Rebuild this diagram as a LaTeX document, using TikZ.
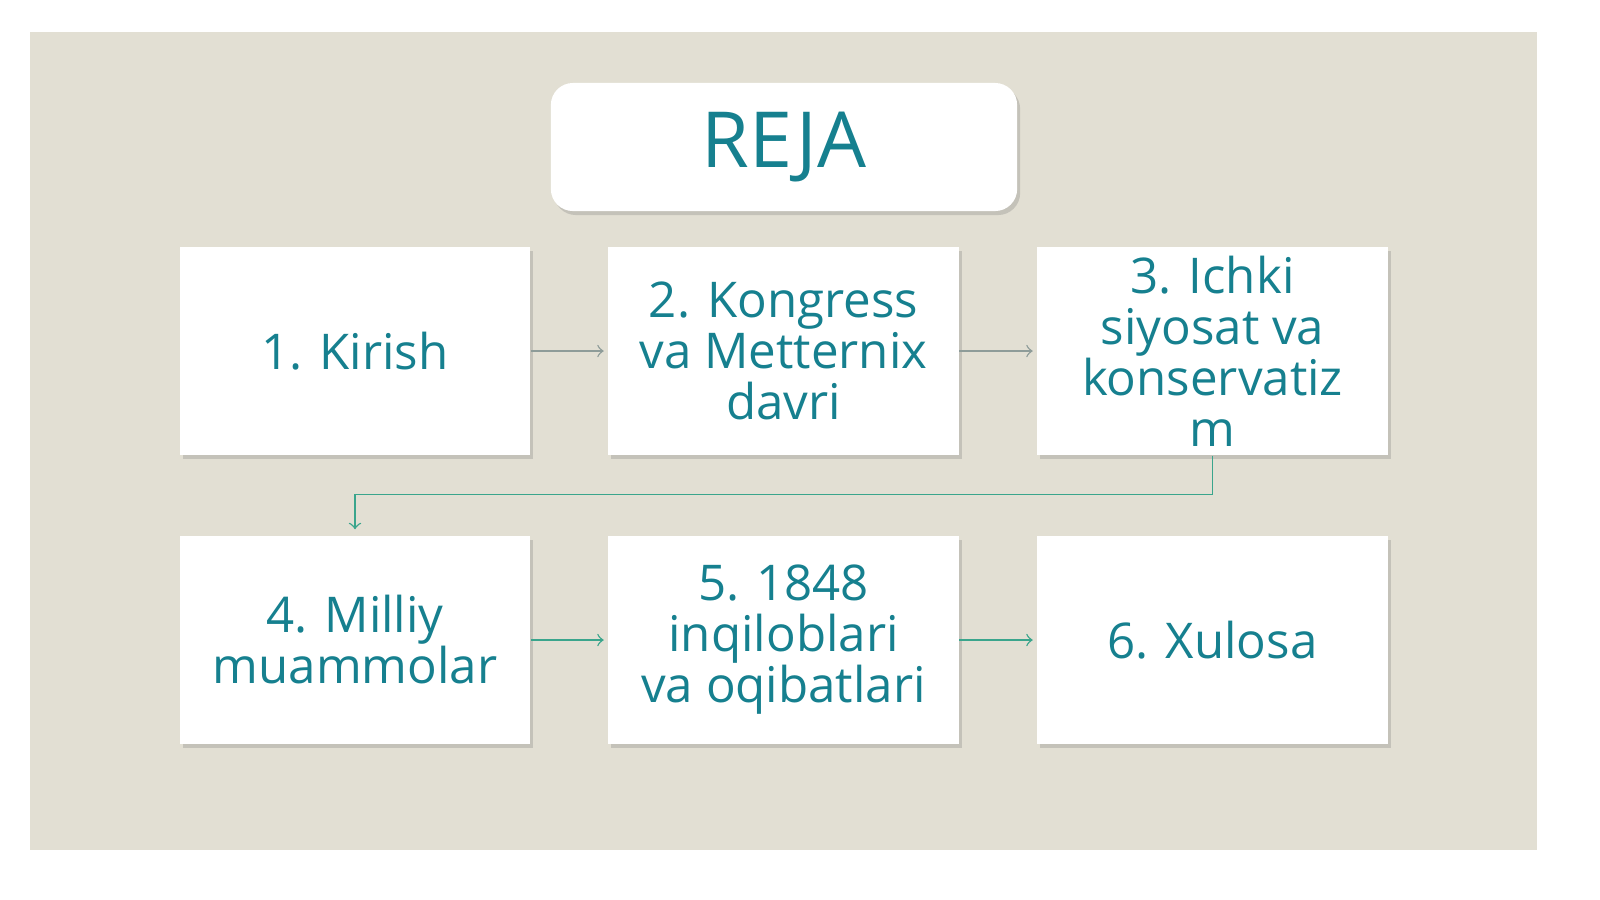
\documentclass[tikz,border=0pt]{standalone}
\usepackage{fontspec}
\setmainfont{Open Sans}
\usetikzlibrary{shadows}
\definecolor{slidebg}{HTML}{E2DFD3}
\definecolor{tealtext}{HTML}{16808F}
\definecolor{arrowgray}{HTML}{8E9C99}
\definecolor{tealline}{HTML}{3AA58C}
\tikzset{
	item/.style={rectangle,fill=white,minimum width=3.5cm,minimum height=2.08cm,inner sep=0,align=center,text=tealtext,font=\fontsize{14}{14.5}\selectfont,drop shadow={shadow xshift=0.3mm,shadow yshift=-0.4mm,opacity=0.3}},
	link/.style={->,>=to,thin,shorten >=0.4mm}
}
\begin{document}
\begin{tikzpicture}[x=0.01cm,y=-0.01cm]
	\def\ya{351}
	\def\yb{640}
	\useasboundingbox (0,0) rectangle (1600,899);
	\fill[white] (0,0) rectangle (1600,899);
	\fill[slidebg] (30,32) rectangle (1537,850);	%slide
	
	%TITLE
	\node[rectangle,rounded corners=2.2mm,fill=white,minimum width=4.66cm,minimum height=1.28cm,text=tealtext,font=\fontsize{22}{24}\selectfont,drop shadow={shadow xshift=0.3mm,shadow yshift=-0.4mm,opacity=0.3}] (reja) at (784,147) {REJA};
	
	%TOP ROW
	\node[item] (kirish) at (355,\ya) {1. Kirish};
	\node[item] (kongress) at (783.5,\ya) {2. Kongress \\ va Metternix \\ davri};
	\node[item] (ichki) at (1212.5,\ya) {3. Ichki \\ siyosat va \\ konservatiz \\ m};
	%
	\draw[link,arrowgray] (kirish)--(kongress);
	\draw[link,arrowgray] (kongress)--(ichki);
	
	%BOTTOM ROW
	\node[item] (milliy) at (355,\yb) {4. Milliy \\ muammolar};
	\node[item] (inqilob) at (783.5,\yb) {5. 1848 \\ inqiloblari \\ va oqibatlari};
	\node[item] (xulosa) at (1212.5,\yb) {6. Xulosa};
	%
	\draw[link,tealline] (milliy)--(inqilob);
	\draw[link,tealline] (inqilob)--(xulosa);
	
	%turn between rows
	\draw[link,tealline,shorten >=0.6mm] (ichki.south)--++(0,39)-|(milliy.north);
\end{tikzpicture}
\end{document}
